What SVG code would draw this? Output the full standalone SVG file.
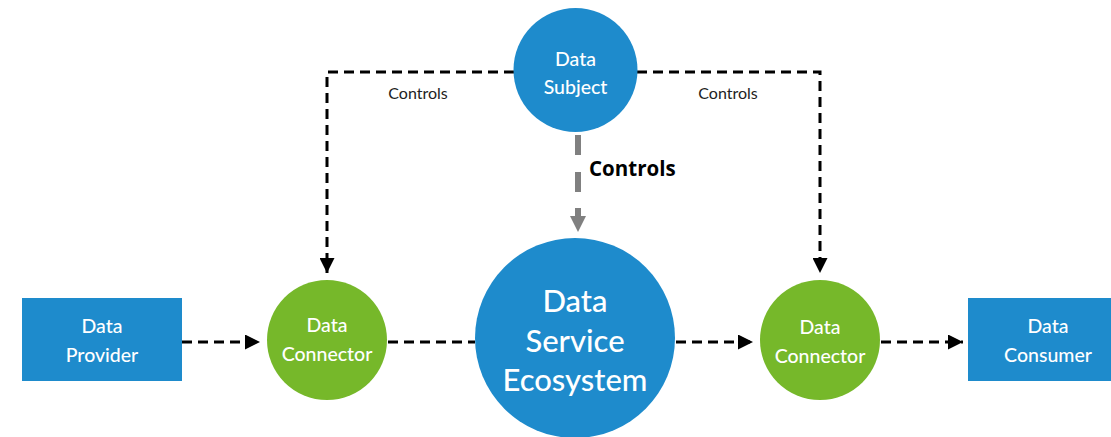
<svg xmlns="http://www.w3.org/2000/svg" width="1111" height="437" viewBox="0 0 1111 437">
<defs>
<marker id="ah" viewBox="0 0 10 10" refX="10" refY="5" markerWidth="5" markerHeight="5" orient="auto" markerUnits="strokeWidth"><path d="M0,0 L10,5 L0,10 Z" fill="#000"/></marker>
<style>
.lbl{font-family:Lato,"Open Sans","Liberation Sans",sans-serif;fill:#fff;text-anchor:middle;font-weight:500}
.dash{fill:none;stroke:#000;stroke-width:3;stroke-dasharray:10 6}
.ctl{font-family:Lato,"Open Sans","Liberation Sans",sans-serif;font-size:16px;fill:#222;text-anchor:middle}
.blue{fill:#1E8BCC}
.green{fill:#76B82A}
</style>
</defs>
<rect width="1111" height="437" fill="#fff"/>
<g id="connectors">
<path class="dash" d="M514,72 H327 V273" marker-end="url(#ah)"/>
<path class="dash" d="M637,72 H820 V273" marker-end="url(#ah)"/>
<path d="M578,135 V192" fill="none" stroke="#808080" stroke-width="6" stroke-dasharray="20 17"/>
<path d="M575,208 H581 V216 H586 L578,232 L570,216 H575 Z" fill="#808080"/>
<path class="dash" d="M182,342 H260" marker-end="url(#ah)"/>
<path class="dash" d="M388,342 H475"/>
<path class="dash" d="M676,342 H753" marker-end="url(#ah)"/>
<path class="dash" d="M881,342 H963" marker-end="url(#ah)"/>
<text class="ctl" x="418" y="99">Controls</text>
<text class="ctl" x="728" y="99">Controls</text>
<text x="589" y="176" font-family="'Open Sans','Liberation Sans',sans-serif" font-size="20.5" font-weight="bold" fill="#000">Controls</text>
</g>
<g id="data-subject">
<circle class="blue" cx="575.5" cy="70" r="62"/>
<text class="lbl" x="575.5" y="66" font-size="19.5">Data</text>
<text class="lbl" x="575.5" y="94" font-size="19.5">Subject</text>
</g>
<g id="data-provider">
<rect class="blue" x="22" y="298" width="160" height="83"/>
<text class="lbl" x="102" y="333" font-size="19.5">Data</text>
<text class="lbl" x="102" y="362" font-size="19.5">Provider</text>
</g>
<g id="data-connector-left">
<circle class="green" cx="327" cy="340" r="60"/>
<text class="lbl" x="327" y="332" font-size="19.5">Data</text>
<text class="lbl" x="327" y="361" font-size="19.5">Connector</text>
</g>
<g id="data-service-ecosystem">
<circle class="blue" cx="575" cy="338" r="100"/>
<text class="lbl" x="575" y="312" font-size="31">Data</text>
<text class="lbl" x="575" y="352" font-size="31">Service</text>
<text class="lbl" x="575" y="391" font-size="31">Ecosystem</text>
</g>
<g id="data-connector-right">
<circle class="green" cx="820" cy="340" r="60"/>
<text class="lbl" x="820" y="334" font-size="19.5">Data</text>
<text class="lbl" x="820" y="363" font-size="19.5">Connector</text>
</g>
<g id="data-consumer">
<rect class="blue" x="968" y="298" width="143" height="83"/>
<text class="lbl" x="1048" y="333" font-size="19.5">Data</text>
<text class="lbl" x="1048" y="362" font-size="19.5">Consumer</text>
</g>
</svg>
